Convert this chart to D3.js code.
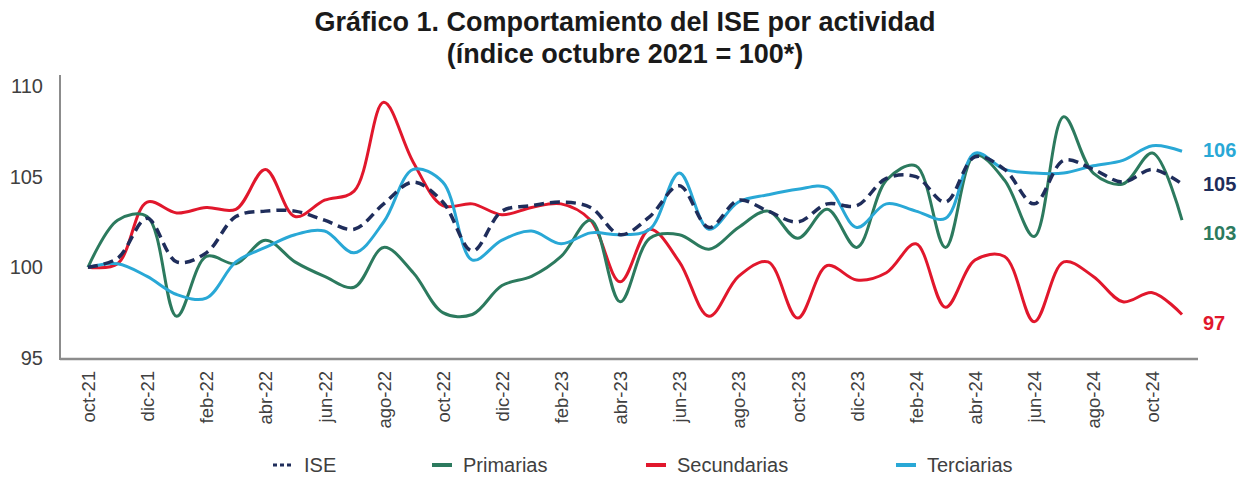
<!DOCTYPE html>
<html>
<head>
<meta charset="utf-8">
<script src="https://cdn.jsdelivr.net/npm/d3@7"></script>
<style>
  body { margin: 0; background: #fff; }
</style>
</head>
<body>
<div id="chart"></div>
<script>
// month labels (oct-21 .. nov-24)
const months = ["oct-21", "nov-21", "dic-21", "ene-22", "feb-22", "mar-22", "abr-22", "may-22", "jun-22", "jul-22",
    "ago-22", "sep-22", "oct-22", "nov-22", "dic-22", "ene-23", "feb-23", "mar-23", "abr-23", "may-23",
    "jun-23", "jul-23", "ago-23", "sep-23", "oct-23", "nov-23", "dic-23", "ene-24", "feb-24", "mar-24",
    "abr-24", "may-24", "jun-24", "jul-24", "ago-24", "sep-24", "oct-24", "nov-24"];

const ise = [100, 100.5, 102.7, 100.3, 100.8, 102.8, 103.1, 103.1, 102.6, 102.1,
    103.5, 104.7, 103.6, 100.9, 103.1, 103.4, 103.6, 103.3, 101.8, 102.8,
    104.5, 102.2, 103.7, 103.1, 102.5, 103.5, 103.4, 104.9, 105.0, 103.6,
    106.1, 105.4, 103.5, 105.9, 105.4, 104.7, 105.4, 104.6];

const primarias = [100, 102.6, 102.8, 97.3, 100.6, 100.2, 101.5, 100.3, 99.5, 98.9,
    101.1, 99.7, 97.5, 97.4, 99.0, 99.5, 100.6, 102.6, 98.1, 101.6,
    101.8, 101.0, 102.2, 103.1, 101.6, 103.2, 101.1, 104.8, 105.6, 101.1,
    106.2, 104.8, 101.7, 108.3, 105.2, 104.6, 106.3, 102.6];

const secundarias = [100, 100.2, 103.6, 103.0, 103.3, 103.2, 105.4, 102.8, 103.7, 104.2,
    109.1, 105.8, 103.4, 103.5, 102.9, 103.3, 103.5, 102.6, 99.2, 102.1,
    100.3, 97.3, 99.5, 100.3, 97.2, 100.1, 99.3, 99.7, 101.3, 97.8,
    100.4, 100.6, 97.0, 100.3, 99.5, 98.1, 98.6, 97.4];

const terciarias = [100, 100.2, 99.5, 98.5, 98.3, 100.3, 101.1, 101.8, 102.0, 100.8,
    102.5, 105.4, 104.7, 100.4, 101.5, 102.0, 101.3, 101.9, 101.8, 102.1,
    105.2, 102.1, 103.6, 104.0, 104.3, 104.4, 102.2, 103.5, 103.1, 102.7,
    106.3, 105.4, 105.2, 105.2, 105.6, 105.9, 106.7, 106.4];

const seriesNames = ["ISE", "Primarias", "Secundarias", "Terciarias"];
const endLabels = ["105", "103", "97", "106"];
const yTicks = [95, 100, 105, 110];

class Chart {
    constructor() {
        const attrs = {
            container: "#chart",
            svgWidth: 1246,
            svgHeight: 481,
            defaultFont: "'Liberation Sans', Arial, sans-serif",
            textFill: "#404040",
            axisColor: "#8c8c8c"
        };
        this.getState = () => attrs;
        this.setState = (d) => Object.assign(attrs, d);
    }

    render() {
        this.drawSvg();
        this.drawTitle();
        this.drawAxes();
        this.drawLines();
        this.drawLegend();
        return this;
    }

    drawSvg() {
        const { container, svgWidth, svgHeight, defaultFont } = this.getState();
        const svg = d3.select(container).append("svg")
            .attr("width", svgWidth)
            .attr("height", svgHeight)
            .attr("font-family", defaultFont);

        const x = d3.scalePoint().domain(months).range([88, 1182]);
        const y = d3.scaleLinear().domain([95, 110]).range([358, 86]);

        // series config; draw order: red, green, cyan, dashed ise on top
        const series = [
            { name: seriesNames[2], values: secundarias, label: endLabels[2], color: "#e1172c", nudge: 9 },
            { name: seriesNames[1], values: primarias, label: endLabels[1], color: "#2c7a5e", nudge: 13 },
            { name: seriesNames[3], values: terciarias, label: endLabels[3], color: "#29a8d6", nudge: -1 },
            { name: seriesNames[0], values: ise, label: endLabels[0], color: "#1f2d5b", nudge: 0, dashed: true }
        ];

        this.setState({ svg, x, y, series });
    }

    drawTitle() {
        const { svg } = this.getState();
        const title = svg.append("g")
            .attr("font-weight", "bold")
            .attr("font-size", 27)
            .attr("fill", "#1a1a1a")
            .attr("text-anchor", "middle");
        title.append("text").attr("x", 625).attr("y", 31)
            .text("Gráfico 1. Comportamiento del ISE por actividad");
        title.append("text").attr("x", 625).attr("y", 63)
            .text("(índice octubre 2021 = 100*)");
    }

    drawAxes() {
        const { svg, x, y, textFill, axisColor } = this.getState();

        const yAxis = svg.append("g")
            .attr("transform", "translate(60,0)")
            .call(d3.axisLeft(y).tickValues(yTicks).tickSize(0).tickPadding(17));
        yAxis.select(".domain").remove();
        yAxis.selectAll("text")
            .attr("font-size", 20)
            .attr("font-family", "'Liberation Sans', Arial, sans-serif")
            .attr("fill", textFill);

        svg.append("line")
            .attr("x1", 60).attr("x2", 60)
            .attr("y1", 75).attr("y2", y(95) + 2)
            .attr("stroke", axisColor).attr("stroke-width", 2);

        const xAxis = svg.append("g")
            .attr("transform", `translate(0,${y(95) + 1})`)
            .call(d3.axisBottom(x)
                .tickValues(months.filter((d, i) => i % 2 === 0))
                .tickSize(0));
        xAxis.select(".domain").remove();
        xAxis.selectAll("text")
            .attr("font-size", 18.5)
            .attr("font-family", "'Liberation Sans', Arial, sans-serif")
            .attr("fill", textFill)
            .attr("text-anchor", "end")
            .attr("dy", "0.35em")
            .attr("transform", "translate(0,12) rotate(-90)")
            .attr("y", 0)
            .attr("x", 0);

        svg.append("line")
            .attr("x1", 60).attr("x2", 1198)
            .attr("y1", y(95) + 1).attr("y2", y(95) + 1)
            .attr("stroke", axisColor).attr("stroke-width", 2.5);
    }

    drawLines() {
        const { svg, x, y, series } = this.getState();

        const line = d3.line()
            .x((d, i) => x(months[i]))
            .y(d => y(d))
            .curve(d3.curveCatmullRom.alpha(0.5));

        svg.append("g").selectAll("path")
            .data(series)
            .join("path")
            .attr("d", d => line(d.values))
            .attr("fill", "none")
            .attr("stroke", d => d.color)
            .attr("stroke-width", d => d.dashed ? 3.5 : 3)
            .attr("stroke-dasharray", d => d.dashed ? "10,6" : null)
            .attr("stroke-linejoin", "round");

        svg.append("g").selectAll("text")
            .data(series)
            .join("text")
            .attr("x", 1203)
            .attr("y", d => y(d.values[d.values.length - 1]) + d.nudge)
            .attr("dy", "0.35em")
            .attr("font-size", 20)
            .attr("font-weight", "bold")
            .attr("fill", d => d.color)
            .text(d => d.label);
    }

    drawLegend() {
        const { svg, series, textFill } = this.getState();
        const legendX = [273, 432, 646, 896];
        const items = seriesNames.map((name, i) => ({
            name,
            s: series.find(d => d.name === name),
            x: legendX[i]
        }));

        const legend = svg.append("g").attr("transform", "translate(0,465)");
        const item = legend.selectAll("g")
            .data(items)
            .join("g")
            .attr("transform", d => `translate(${d.x},0)`);

        item.append("line")
            .attr("x1", 0).attr("x2", d => d.s.dashed ? 18 : 20)
            .attr("y1", 0).attr("y2", 0)
            .attr("stroke", d => d.s.color)
            .attr("stroke-width", d => d.s.dashed ? 3 : 4)
            .attr("stroke-dasharray", d => d.s.dashed ? "4,3" : null);

        item.append("text")
            .attr("x", 31)
            .attr("dy", "0.35em")
            .attr("font-size", 20)
            .attr("fill", textFill)
            .text(d => d.name);
    }
}

new Chart().render();
</script>
</body>
</html>
